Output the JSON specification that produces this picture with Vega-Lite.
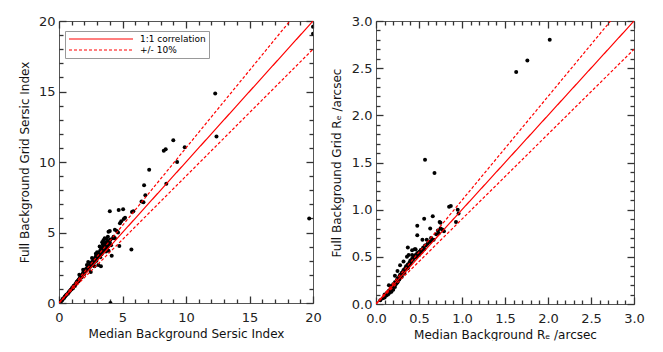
{
  "$schema": "https://vega.github.io/schema/vega-lite/v6.json",
  "padding": {"left": 17, "top": 14, "right": 0, "bottom": 0},
  "spacing": 7,
  "datasets": {
    "left": [
      {"x": 20.0, "y": 19.6}, {"x": 20.0, "y": 19.1}, {"x": 19.7, "y": 6.0}, {"x": 12.3, "y": 14.85}, {"x": 12.4, "y": 11.8},
      {"x": 9.0, "y": 11.55}, {"x": 9.9, "y": 11.05}, {"x": 8.25, "y": 10.8}, {"x": 8.4, "y": 10.9}, {"x": 9.3, "y": 10.0},
      {"x": 7.1, "y": 9.45}, {"x": 8.45, "y": 8.45}, {"x": 6.7, "y": 8.35}, {"x": 6.8, "y": 7.65}, {"x": 6.5, "y": 7.2},
      {"x": 6.65, "y": 7.15}, {"x": 4.0, "y": 6.5}, {"x": 4.7, "y": 6.6}, {"x": 5.05, "y": 6.65}, {"x": 5.75, "y": 6.45},
      {"x": 5.85, "y": 6.5}, {"x": 5.1, "y": 5.95}, {"x": 5.2, "y": 6.05}, {"x": 4.9, "y": 5.8}, {"x": 4.8, "y": 5.65},
      {"x": 5.7, "y": 3.8}, {"x": 4.75, "y": 4.05}, {"x": 4.05, "y": 0.0}, {"x": 3.9, "y": 5.05}, {"x": 4.0, "y": 5.1},
      {"x": 4.4, "y": 5.2}, {"x": 4.55, "y": 5.1}, {"x": 4.65, "y": 5.0}, {"x": 4.3, "y": 4.7}, {"x": 4.4, "y": 4.6},
      {"x": 4.05, "y": 4.5}, {"x": 3.85, "y": 4.7}, {"x": 4.25, "y": 4.6},
      {"x": 0.05, "y": 0.03}, {"x": 0.15, "y": 0.1}, {"x": 0.25, "y": 0.2}, {"x": 0.3, "y": 0.3}, {"x": 0.4, "y": 0.35},
      {"x": 0.45, "y": 0.45}, {"x": 0.5, "y": 0.5}, {"x": 0.55, "y": 0.55}, {"x": 0.6, "y": 0.6}, {"x": 0.7, "y": 0.65},
      {"x": 0.75, "y": 0.75}, {"x": 0.8, "y": 0.8}, {"x": 0.85, "y": 0.85}, {"x": 0.9, "y": 0.9}, {"x": 0.95, "y": 0.95},
      {"x": 1.0, "y": 1.0}, {"x": 1.05, "y": 1.1}, {"x": 1.1, "y": 1.05}, {"x": 1.15, "y": 1.2}, {"x": 1.2, "y": 1.25},
      {"x": 1.25, "y": 1.2}, {"x": 1.3, "y": 1.35}, {"x": 1.35, "y": 1.4}, {"x": 1.4, "y": 1.5}, {"x": 1.45, "y": 1.45},
      {"x": 1.5, "y": 1.6}, {"x": 1.5, "y": 1.55}, {"x": 1.55, "y": 1.65}, {"x": 1.6, "y": 1.7}, {"x": 1.6, "y": 1.6},
      {"x": 1.65, "y": 1.75}, {"x": 1.7, "y": 1.8}, {"x": 1.7, "y": 1.9}, {"x": 1.75, "y": 1.85}, {"x": 1.8, "y": 1.95},
      {"x": 1.8, "y": 1.85}, {"x": 1.85, "y": 2.0}, {"x": 1.9, "y": 2.05}, {"x": 1.9, "y": 2.15}, {"x": 1.95, "y": 2.1},
      {"x": 2.0, "y": 2.2}, {"x": 2.0, "y": 2.05}, {"x": 2.05, "y": 2.3}, {"x": 2.1, "y": 2.25}, {"x": 2.1, "y": 2.4},
      {"x": 2.15, "y": 2.3}, {"x": 2.2, "y": 2.45}, {"x": 2.2, "y": 2.35}, {"x": 2.25, "y": 2.5}, {"x": 2.3, "y": 2.4},
      {"x": 2.3, "y": 2.6}, {"x": 2.35, "y": 2.55}, {"x": 2.4, "y": 2.65}, {"x": 2.4, "y": 2.5}, {"x": 2.45, "y": 2.7},
      {"x": 2.5, "y": 2.75}, {"x": 2.5, "y": 2.6}, {"x": 2.55, "y": 2.85}, {"x": 2.6, "y": 2.7}, {"x": 2.6, "y": 2.9},
      {"x": 2.65, "y": 2.8}, {"x": 2.7, "y": 3.0}, {"x": 2.7, "y": 2.85}, {"x": 2.75, "y": 2.95}, {"x": 2.8, "y": 3.1},
      {"x": 2.8, "y": 2.9}, {"x": 2.85, "y": 3.2}, {"x": 2.9, "y": 3.05}, {"x": 2.9, "y": 3.3}, {"x": 2.95, "y": 3.15},
      {"x": 3.0, "y": 3.35}, {"x": 3.0, "y": 3.2}, {"x": 3.05, "y": 3.4}, {"x": 3.1, "y": 3.3}, {"x": 3.1, "y": 3.5},
      {"x": 3.15, "y": 3.45}, {"x": 3.2, "y": 3.6}, {"x": 3.2, "y": 3.4}, {"x": 3.25, "y": 3.7}, {"x": 3.3, "y": 3.55},
      {"x": 3.3, "y": 3.8}, {"x": 3.35, "y": 3.65}, {"x": 3.4, "y": 3.9}, {"x": 3.4, "y": 3.75}, {"x": 3.45, "y": 3.6},
      {"x": 3.5, "y": 4.0}, {"x": 3.5, "y": 3.85}, {"x": 3.55, "y": 4.1}, {"x": 3.6, "y": 3.95}, {"x": 3.6, "y": 4.2},
      {"x": 3.65, "y": 3.8}, {"x": 3.7, "y": 4.0}, {"x": 3.7, "y": 4.3}, {"x": 3.75, "y": 3.9}, {"x": 3.8, "y": 4.1},
      {"x": 3.85, "y": 4.4}, {"x": 3.9, "y": 4.2}, {"x": 4.0, "y": 4.3}, {"x": 3.4, "y": 4.3}, {"x": 3.6, "y": 4.6},
      {"x": 3.2, "y": 4.0}, {"x": 2.6, "y": 3.2}, {"x": 2.3, "y": 2.9}, {"x": 1.6, "y": 2.0}, {"x": 3.1, "y": 2.7},
      {"x": 3.3, "y": 2.6}, {"x": 2.5, "y": 2.2}, {"x": 2.8, "y": 2.6}, {"x": 4.15, "y": 3.35}, {"x": 3.0, "y": 3.6},
      {"x": 3.5, "y": 4.45}, {"x": 3.75, "y": 4.55}, {"x": 2.9, "y": 3.5}, {"x": 2.2, "y": 2.7}, {"x": 1.9, "y": 2.35},
      {"x": 3.55, "y": 3.7}, {"x": 3.65, "y": 4.05}, {"x": 3.8, "y": 3.95}, {"x": 3.45, "y": 4.15}, {"x": 3.9, "y": 3.7},
      {"x": 3.25, "y": 3.25}, {"x": 3.35, "y": 3.45}, {"x": 2.95, "y": 3.0}, {"x": 3.7, "y": 3.65}, {"x": 4.1, "y": 4.1}
    ],
    "leftLines": [
      {"x": 0, "y": 0, "k": "1:1 correlation", "g": "a"}, {"x": 20, "y": 20, "k": "1:1 correlation", "g": "a"},
      {"x": 0, "y": 0, "k": "+/- 10%", "g": "b"}, {"x": 20, "y": 22, "k": "+/- 10%", "g": "b"},
      {"x": 0, "y": 0, "k": "+/- 10%", "g": "c"}, {"x": 20, "y": 18, "k": "+/- 10%", "g": "c"}
    ],
    "right": [
      {"x": 0.05, "y": 0.04}, {"x": 0.08, "y": 0.06}, {"x": 0.1, "y": 0.07}, {"x": 0.1, "y": 0.1}, {"x": 0.12, "y": 0.09},
      {"x": 0.13, "y": 0.12}, {"x": 0.14, "y": 0.1}, {"x": 0.15, "y": 0.14}, {"x": 0.16, "y": 0.12}, {"x": 0.17, "y": 0.16},
      {"x": 0.18, "y": 0.13}, {"x": 0.18, "y": 0.19}, {"x": 0.19, "y": 0.17}, {"x": 0.2, "y": 0.15}, {"x": 0.2, "y": 0.21},
      {"x": 0.21, "y": 0.19}, {"x": 0.22, "y": 0.23}, {"x": 0.22, "y": 0.18}, {"x": 0.23, "y": 0.21}, {"x": 0.24, "y": 0.25},
      {"x": 0.24, "y": 0.22}, {"x": 0.25, "y": 0.27}, {"x": 0.25, "y": 0.23}, {"x": 0.26, "y": 0.25}, {"x": 0.27, "y": 0.29},
      {"x": 0.27, "y": 0.26}, {"x": 0.28, "y": 0.31}, {"x": 0.28, "y": 0.28}, {"x": 0.29, "y": 0.3}, {"x": 0.3, "y": 0.33},
      {"x": 0.3, "y": 0.29}, {"x": 0.31, "y": 0.34}, {"x": 0.31, "y": 0.32}, {"x": 0.32, "y": 0.36}, {"x": 0.33, "y": 0.35},
      {"x": 0.33, "y": 0.33}, {"x": 0.34, "y": 0.38}, {"x": 0.35, "y": 0.37}, {"x": 0.35, "y": 0.4}, {"x": 0.36, "y": 0.39},
      {"x": 0.37, "y": 0.42}, {"x": 0.37, "y": 0.38}, {"x": 0.38, "y": 0.41}, {"x": 0.39, "y": 0.44}, {"x": 0.4, "y": 0.43},
      {"x": 0.4, "y": 0.46}, {"x": 0.41, "y": 0.45}, {"x": 0.42, "y": 0.48}, {"x": 0.43, "y": 0.47}, {"x": 0.44, "y": 0.5},
      {"x": 0.45, "y": 0.49}, {"x": 0.46, "y": 0.52}, {"x": 0.47, "y": 0.5}, {"x": 0.48, "y": 0.54}, {"x": 0.5, "y": 0.55},
      {"x": 0.5, "y": 0.52}, {"x": 0.52, "y": 0.57}, {"x": 0.53, "y": 0.55}, {"x": 0.55, "y": 0.6}, {"x": 0.56, "y": 0.58},
      {"x": 0.58, "y": 0.62}, {"x": 0.6, "y": 0.64}, {"x": 0.62, "y": 0.66}, {"x": 0.64, "y": 0.7}, {"x": 0.66, "y": 0.68},
      {"x": 0.7, "y": 0.74}, {"x": 0.72, "y": 0.78}, {"x": 0.75, "y": 0.8}, {"x": 0.28, "y": 0.41}, {"x": 0.32, "y": 0.45},
      {"x": 0.36, "y": 0.5}, {"x": 0.42, "y": 0.57}, {"x": 0.45, "y": 0.58}, {"x": 0.25, "y": 0.35}, {"x": 0.22, "y": 0.3},
      {"x": 0.15, "y": 0.2},
      {"x": 0.85, "y": 1.03}, {"x": 0.87, "y": 1.04}, {"x": 0.95, "y": 1.0}, {"x": 0.96, "y": 0.96}, {"x": 0.66, "y": 0.93},
      {"x": 0.56, "y": 0.905}, {"x": 0.74, "y": 0.87}, {"x": 0.75, "y": 0.86}, {"x": 0.93, "y": 0.87}, {"x": 0.48, "y": 0.83},
      {"x": 0.63, "y": 0.8}, {"x": 0.77, "y": 0.79}, {"x": 0.79, "y": 0.77}, {"x": 0.48, "y": 0.73}, {"x": 0.54, "y": 0.68},
      {"x": 0.59, "y": 0.68}, {"x": 0.67, "y": 0.68}, {"x": 0.73, "y": 0.75}, {"x": 0.37, "y": 0.6}, {"x": 0.46, "y": 0.58},
      {"x": 0.52, "y": 0.57}, {"x": 0.55, "y": 0.59}, {"x": 0.63, "y": 0.66}, {"x": 0.57, "y": 0.62}, {"x": 0.38, "y": 0.52},
      {"x": 0.42, "y": 0.52}, {"x": 0.5, "y": 0.53}, {"x": 0.57, "y": 1.53}, {"x": 0.68, "y": 1.39}, {"x": 1.63, "y": 2.46},
      {"x": 1.76, "y": 2.58}, {"x": 2.02, "y": 2.8}
    ],
    "rightLines": [
      {"x": 0, "y": 0, "k": "1:1 correlation", "g": "a"}, {"x": 3, "y": 3, "k": "1:1 correlation", "g": "a"},
      {"x": 0, "y": 0, "k": "+/- 10%", "g": "b"}, {"x": 3, "y": 3.3, "k": "+/- 10%", "g": "b"},
      {"x": 0, "y": 0, "k": "+/- 10%", "g": "c"}, {"x": 3, "y": 2.7, "k": "+/- 10%", "g": "c"}
    ]
  },
  "hconcat": [
    {
      "width": 254,
      "height": 282,
      "layer": [
        {
          "data": {"name": "left"},
          "mark": {"type": "circle", "size": 16, "color": "#000", "opacity": 1, "clip": true},
          "encoding": {
            "x": {"field": "x", "type": "quantitative", "scale": {"domain": [0, 20], "nice": false, "zero": false},
              "axis": {"orient": "bottom", "values": [0,1,2,3,4,5,6,7,8,9,10,11,12,13,14,15,16,17,18,19,20],
                "tickSize": {"condition": {"test": "datum.value % 5 === 0", "value": -7}, "value": -4},
                "labelExpr": "datum.value % 5 === 0 ? datum.label : ''", "labelPadding": 15,
                "title": "Median Background Sersic Index", "titlePadding": 1}},
            "y": {"field": "y", "type": "quantitative", "scale": {"domain": [0, 20], "nice": false, "zero": false},
              "axis": {"orient": "left", "values": [0,1,2,3,4,5,6,7,8,9,10,11,12,13,14,15,16,17,18,19,20],
                "tickSize": {"condition": {"test": "datum.value % 5 === 0", "value": -7}, "value": -4},
                "labelExpr": "datum.value % 5 === 0 ? datum.label : ''", "labelPadding": 11,
                "title": "Full Background Grid Sersic Index", "titlePadding": 7}}
          }
        },
        {
          "data": {"name": "leftLines"},
          "mark": {"type": "line", "color": "#ff0000", "strokeWidth": 1.2, "clip": true},
          "encoding": {
            "x": {"field": "x", "type": "quantitative", "scale": {"domain": [0, 20], "nice": false, "zero": false},
              "axis": {"orient": "top", "values": [0,1,2,3,4,5,6,7,8,9,10,11,12,13,14,15,16,17,18,19,20],
                "tickSize": {"condition": {"test": "datum.value % 5 === 0", "value": -7}, "value": -4},
                "labels": false, "title": null}},
            "y": {"field": "y", "type": "quantitative", "scale": {"domain": [0, 20], "nice": false, "zero": false},
              "axis": {"orient": "right", "values": [0,1,2,3,4,5,6,7,8,9,10,11,12,13,14,15,16,17,18,19,20],
                "tickSize": {"condition": {"test": "datum.value % 5 === 0", "value": -7}, "value": -4},
                "labels": false, "title": null}},
            "detail": {"field": "g", "type": "nominal"},
            "strokeDash": {"field": "k", "type": "nominal",
              "scale": {"domain": ["1:1 correlation", "+/- 10%"], "range": [[1, 0], [3, 2]]},
              "legend": {"title": null, "orient": "none", "legendX": 6, "legendY": 10}}
          }
        }
      ]
    },
    {
      "width": 258,
      "height": 283,
      "layer": [
        {
          "data": {"name": "right"},
          "mark": {"type": "circle", "size": 16, "color": "#000", "opacity": 1, "clip": true},
          "encoding": {
            "x": {"field": "x", "type": "quantitative", "scale": {"domain": [0, 3], "nice": false, "zero": false},
              "axis": {"orient": "bottom", "values": [0,0.1,0.2,0.3,0.4,0.5,0.6,0.7,0.8,0.9,1,1.1,1.2,1.3,1.4,1.5,1.6,1.7,1.8,1.9,2,2.1,2.2,2.3,2.4,2.5,2.6,2.7,2.8,2.9,3],
                "tickSize": {"condition": {"test": "abs(datum.value*2 - round(datum.value*2)) < 0.001", "value": -7}, "value": -4},
                "format": ".1f",
                "labelExpr": "abs(datum.value*2 - round(datum.value*2)) < 0.001 ? datum.label : ''", "labelPadding": 15,
                "title": "Median Background Rₑ /arcsec", "titlePadding": 1}},
            "y": {"field": "y", "type": "quantitative", "scale": {"domain": [0, 3], "nice": false, "zero": false},
              "axis": {"orient": "left", "values": [0,0.1,0.2,0.3,0.4,0.5,0.6,0.7,0.8,0.9,1,1.1,1.2,1.3,1.4,1.5,1.6,1.7,1.8,1.9,2,2.1,2.2,2.3,2.4,2.5,2.6,2.7,2.8,2.9,3],
                "tickSize": {"condition": {"test": "abs(datum.value*2 - round(datum.value*2)) < 0.001", "value": -7}, "value": -4},
                "format": ".1f",
                "labelExpr": "abs(datum.value*2 - round(datum.value*2)) < 0.001 ? datum.label : ''", "labelPadding": 11,
                "title": "Full Background Grid Rₑ /arcsec", "titlePadding": 8}}
          }
        },
        {
          "data": {"name": "rightLines"},
          "mark": {"type": "line", "color": "#ff0000", "strokeWidth": 1.2, "clip": true},
          "encoding": {
            "x": {"field": "x", "type": "quantitative", "scale": {"domain": [0, 3], "nice": false, "zero": false},
              "axis": {"orient": "top", "values": [0,0.1,0.2,0.3,0.4,0.5,0.6,0.7,0.8,0.9,1,1.1,1.2,1.3,1.4,1.5,1.6,1.7,1.8,1.9,2,2.1,2.2,2.3,2.4,2.5,2.6,2.7,2.8,2.9,3],
                "tickSize": {"condition": {"test": "abs(datum.value*2 - round(datum.value*2)) < 0.001", "value": -7}, "value": -4},
                "labels": false, "title": null}},
            "y": {"field": "y", "type": "quantitative", "scale": {"domain": [0, 3], "nice": false, "zero": false},
              "axis": {"orient": "right", "values": [0,0.1,0.2,0.3,0.4,0.5,0.6,0.7,0.8,0.9,1,1.1,1.2,1.3,1.4,1.5,1.6,1.7,1.8,1.9,2,2.1,2.2,2.3,2.4,2.5,2.6,2.7,2.8,2.9,3],
                "tickSize": {"condition": {"test": "abs(datum.value*2 - round(datum.value*2)) < 0.001", "value": -7}, "value": -4},
                "labels": false, "title": null}},
            "detail": {"field": "g", "type": "nominal"},
            "strokeDash": {"field": "k", "type": "nominal",
              "scale": {"domain": ["1:1 correlation", "+/- 10%"], "range": [[1, 0], [3, 2]]},
              "legend": {"title": null, "orient": "none", "legendX": 6, "legendY": 10}}
          }
        }
      ]
    }
  ],
  "config": {
    "font": "DejaVu Sans",
    "view": {"stroke": "#555", "strokeWidth": 1},
    "axis": {"domain": false, "grid": false, "labelFont": "DejaVu Sans", "labelFontSize": 13, "labelColor": "#222",
      "titleFont": "DejaVu Sans", "titleFontSize": 12, "titleFontWeight": "normal", "titleColor": "#111",
      "tickColor": "#333", "tickWidth": 1.3, "labelFlush": false, "labelOverlap": false},
    "legend": {"symbolType": "stroke", "symbolSize": 4096, "clipHeight": 10, "symbolStrokeColor": "#ff0000",
      "symbolStrokeWidth": 1.2, "labelFont": "DejaVu Sans", "labelFontSize": 9, "labelColor": "#000",
      "strokeColor": "#999", "padding": 3, "rowPadding": 1, "labelOffset": 6, "fillColor": "#fff"}
  }
}
